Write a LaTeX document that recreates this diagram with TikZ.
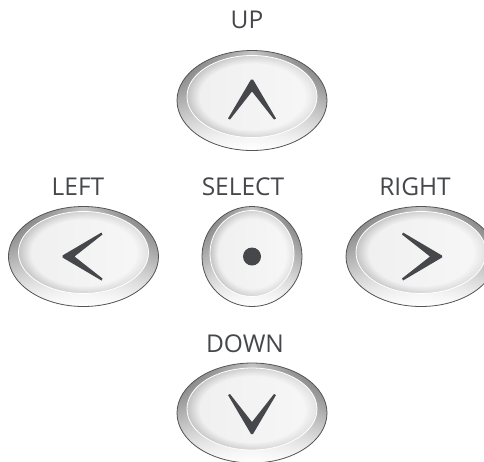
\documentclass[tikz,border=0pt]{standalone}
\usepackage{fontspec}
\setmainfont{Open Sans}
\usetikzlibrary{fadings}
\definecolor{keyink}{HTML}{45474A}
\definecolor{ringdark}{HTML}{5C5C5C}
\definecolor{ringlight}{HTML}{C4C4C4}
\definecolor{ringline}{HTML}{555555}
\definecolor{capleft}{HTML}{C2C2C2}
\definecolor{capright}{HTML}{E2E2E2}
\tikzset{
  keylabel/.style={text=keyink, anchor=base, inner sep=0pt},
  pics/keycap/.style n args={5}{code={
    \shade[left color=ringdark, right color=ringdark, middle color=ringlight] (0,0) ellipse [x radius=#1, y radius=#2];
    \fill[white, path fading=north] (0,0) ellipse [x radius=#1, y radius=#2];
    \draw[ringline, line width=.8pt] (0,0) ellipse [x radius=#1, y radius=#2];
    \shade[left color=capleft, right color=capright] (0,-#5) ellipse [x radius=#3, y radius=#4];
    \fill[white, fill opacity=.75, path fading=circle with fuzzy edge 20 percent] (0,-#5) ellipse [x radius=#3, y radius=#4];
    \draw[white, line width=.8pt] (0,-#5) ellipse [x radius=#3, y radius=#4];
  }}
}
\begin{document}
\begin{tikzpicture}[x=1pt, y=-1pt, line join=round, line cap=round, font=\fontsize{24.5}{28}\selectfont]
\useasboundingbox[fill=white] (0,0) rectangle (484,461);
\path
(252,100.5)coordinate(U)
(83.5,256.5)coordinate(L)
(252,256.5)coordinate(S)
(421,256.5)coordinate(R)
(252,413)coordinate(D)
;
\foreach \k in {U,L,R,D} \pic at (\k) {keycap={75}{50}{65}{41}{4}};
\pic at (S) {keycap={50}{50}{42}{43}{3}};
\foreach \k/\r in {U/0,L/90,D/180,R/-90}
  \fill[keyink, shift={(\k)}, rotate=\r] (-24,18)--(-1,-21)--(1,-21)--(24,18)--(22,19)--(0,-9)--(-22,19)--cycle;
\fill[keyink] (S) circle (9);
\foreach \n/\t/\x/\y in {upl/UP/247/28, leftl/LEFT/78/195, selectl/SELECT/243/195, rightl/RIGHT/415/195, downl/DOWN/245/352}
  \node[keylabel] (\n) at (\x,\y) {\t};
\end{tikzpicture}
\end{document}
